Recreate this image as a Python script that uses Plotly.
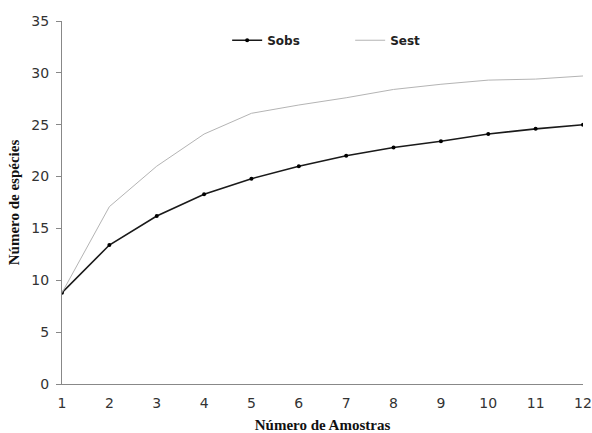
import plotly.graph_objects as go

amostras = [1, 2, 3, 4, 5, 6, 7, 8, 9, 10, 11, 12]
sobs = [8.8, 13.4, 16.2, 18.3, 19.8, 21.0, 22.0, 22.8, 23.4, 24.1, 24.6, 25.0]
sest = [8.8, 17.1, 21.0, 24.1, 26.1, 26.9, 27.6, 28.4, 28.9, 29.3, 29.4, 29.7]

fig = go.Figure()
fig.add_trace(go.Scatter(
    x=amostras, y=sobs, name="<b>Sobs</b>", mode="lines+markers",
    line=dict(color="#1a1a1a", width=1.6),
    marker=dict(size=4, color="#000000"),
))
fig.add_trace(go.Scatter(
    x=amostras, y=sest, name="<b>Sest</b>", mode="lines",
    line=dict(color="#b4b4b4", width=1),
))

fig.update_layout(
    width=592, height=433,
    margin=dict(l=62, r=9, t=21, b=49),
    paper_bgcolor="white", plot_bgcolor="white",
    showlegend=True,
    legend=dict(
        orientation="h", x=0.317, y=0.947, xanchor="left", yanchor="middle",
        font=dict(family="DejaVu Sans", size=12, color="#222"),
        bgcolor="rgba(0,0,0,0)", traceorder="normal",
        entrywidth=78,
    ),
    font=dict(family="DejaVu Sans", size=12, color="#333"),
)
fig.update_xaxes(
    range=[1, 12], tickvals=amostras, showgrid=False, zeroline=False,
    showline=True, linecolor="#888", linewidth=1.2, ticks="",
    automargin=False, ticklabeloverflow="allow", ticklabelstandoff=6,
    tickfont=dict(family="DejaVu Sans", size=14, color="#333"),
    title=dict(text="<b>Número de Amostras</b>",
               font=dict(family="Liberation Serif", size=15, color="#111"),
               standoff=10),
)
fig.update_yaxes(
    range=[0, 35], tickvals=[0, 5, 10, 15, 20, 25, 30, 35], showgrid=False,
    zeroline=False, showline=True, linecolor="#888", linewidth=1.2,
    ticks="outside", ticklen=5, tickcolor="#888", automargin=False,
    ticklabelstandoff=4,
    tickfont=dict(family="DejaVu Sans", size=14, color="#333"),
    title=dict(text="<b>Número de espécies</b>",
               font=dict(family="Liberation Serif", size=15, color="#111"),
               standoff=8),
)

fig.write_html(
    "out.html",
    config={"displayModeBar": False},
    post_script="document.body.style.margin='0';document.body.style.overflow='hidden';",
)
